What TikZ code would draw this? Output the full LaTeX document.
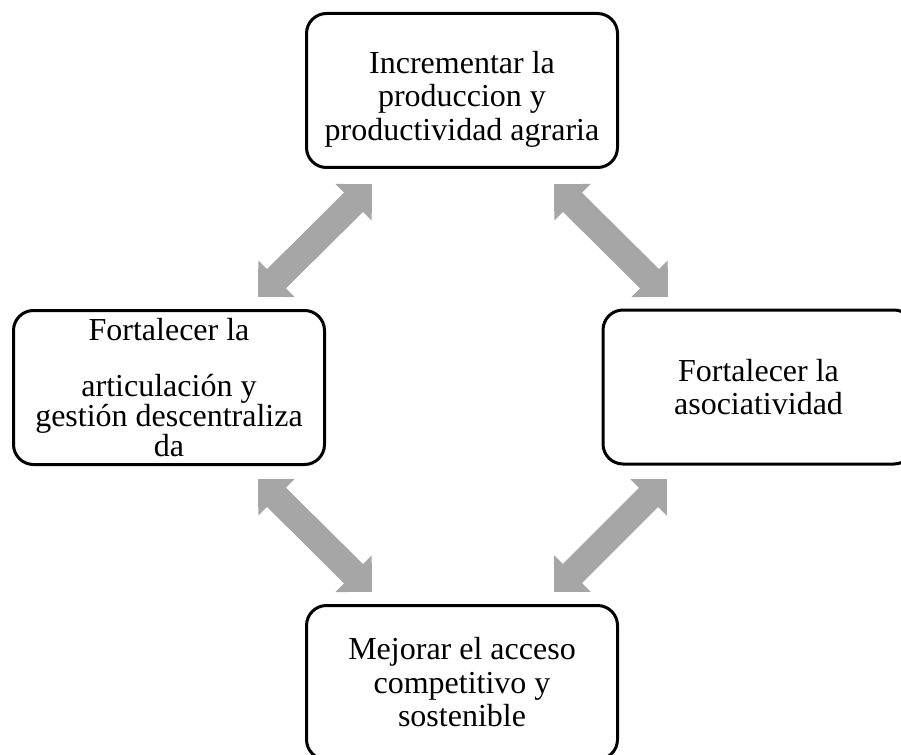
\documentclass[tikz,border=0pt]{standalone}
\usepackage{fontspec}
\setmainfont{Liberation Serif}
\usetikzlibrary{arrows.meta}

\tikzset{
  goalbox/.style={draw=black, line width=3pt, rounded corners=20pt,
    minimum width=311pt, minimum height=154pt, inner sep=0pt, align=center,
    font=\fontsize{32pt}{33.5pt}\selectfont},
  bigarrow/.style={draw={rgb,255:red,166;green,166;blue,166}, line width=27pt,
    {Triangle[width=50pt,length=26pt]}-{Triangle[width=50pt,length=26pt]}}
}

\begin{document}
\begin{tikzpicture}[x=1pt,y=-1pt]
  \useasboundingbox (0,0) rectangle (901,754);
  \clip (0,0) rectangle (901,754);
  % top box
  \node [goalbox] (prod) at (462,90.5) {\rule{0pt}{39pt}Incrementar la\\produccion y\\productividad agraria};
  % left box
  \node [goalbox, font=\fontsize{32pt}{29pt}\selectfont] (artic) at (169,387.5)
    {Fortalecer la\\[27pt]articulación y\\gestión descentraliza\\da};
  % right box, cut by the edge
  \node [goalbox] (asoc) at (758.5,387) {Fortalecer la\\asociatividad};
  % bottom box, cut by the edge
  \node [goalbox] (acceso) at (462,682.5) {Mejorar el acceso\\competitivo y\\sostenible};
  % arrow ends
  \coordinate (prodL) at (372,184);
  \coordinate (articT) at (258,297);
  \coordinate (prodR) at (554,184);
  \coordinate (asocT) at (668,297);
  \coordinate (articB) at (258,479);
  \coordinate (accesoL) at (372,592);
  \coordinate (asocB) at (667,479);
  \coordinate (accesoR) at (554,592);
  % gray double arrows
  \draw [bigarrow] (prodL) -- (articT);
  \draw [bigarrow] (prodR) -- (asocT);
  \draw [bigarrow] (articB) -- (accesoL);
  \draw [bigarrow] (asocB) -- (accesoR);
\end{tikzpicture}
\end{document}
